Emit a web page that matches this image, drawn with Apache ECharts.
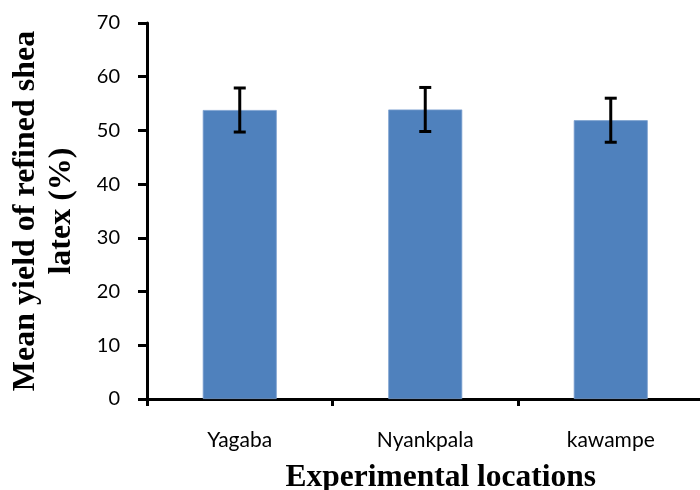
<!DOCTYPE html>
<html>
<head>
<meta charset="utf-8">
<script src="https://cdn.jsdelivr.net/npm/echarts@6/dist/echarts.min.js"></script>
<style>
html,body{margin:0;padding:0;background:#fff;}
#chart{width:700px;height:490px;}
</style>
</head>
<body>
<div id="chart"></div>
<script>
const categories = ["Yagaba", "Nyankpala", "kawampe"];
const meanYield = [53.8, 53.9, 51.9];
const errorSize = [4.1, 4.1, 4.1];
const yTicks = [0, 10, 20, 30, 40, 50, 60, 70];

const errData = categories.map((c, i) => [i, meanYield[i] - errorSize[i], meanYield[i] + errorSize[i]]);

const chart = echarts.init(document.getElementById('chart'), null, {renderer: 'canvas'});
chart.setOption({
  animation: false,
  backgroundColor: '#ffffff',
  grid: {left: 147, right: -3.5, top: 23, bottom: 91, containLabel: false, outerBoundsMode: 'none'},
  xAxis: {
    type: 'category',
    data: categories,
    boundaryGap: true,
    axisLine: {show: true, lineStyle: {color: '#000', width: 3}},
    axisTick: {show: true, alignWithLabel: false, interval: 0, length: 7, lineStyle: {color: '#000', width: 3}},
    axisLabel: {color: '#000', fontFamily: 'Lato', fontSize: 21, margin: 31, interval: 0},
    splitLine: {show: false},
    name: 'Experimental locations',
    nameLocation: 'middle',
    nameGap: 63,
    nameTextStyle: {fontFamily: 'Liberation Serif', fontWeight: 'bold', fontSize: 31.5, color: '#000', padding: [0, 0, 0, 31]}
  },
  yAxis: {
    type: 'value',
    min: yTicks[0],
    max: yTicks[yTicks.length - 1],
    interval: 10,
    axisLine: {show: true, lineStyle: {color: '#000', width: 3}},
    axisTick: {show: true, length: 9, lineStyle: {color: '#000', width: 3}},
    axisLabel: {color: '#000', fontFamily: 'Lato', fontSize: 20, margin: 27},
    splitLine: {show: false},
    name: 'Mean yield of refined shea\nlatex (%)',
    nameLocation: 'middle',
    nameRotate: 90,
    nameGap: 67,
    nameTextStyle: {fontFamily: 'Liberation Serif', fontWeight: 'bold', fontSize: 32, lineHeight: 36, color: '#000', align: 'center'}
  },
  series: [
    {
      type: 'bar',
      data: meanYield,
      barWidth: 74,
      itemStyle: {color: '#4F81BD', borderColor: '#7BA0CF', borderWidth: 0.8},
      z: 2
    },
    {
      type: 'custom',
      data: errData,
      z: 5,
      renderItem: function (params, api) {
        const x = api.value(0);
        const top = api.coord([x, api.value(2)]);
        const bot = api.coord([x, api.value(1)]);
        const hw = 6;
        const style = {stroke: '#000', lineWidth: 3};
        return {
          type: 'group',
          children: [
            {type: 'line', shape: {x1: top[0], y1: top[1], x2: bot[0], y2: bot[1]}, style: style},
            {type: 'line', shape: {x1: top[0] - hw, y1: top[1], x2: top[0] + hw, y2: top[1]}, style: style},
            {type: 'line', shape: {x1: bot[0] - hw, y1: bot[1], x2: bot[0] + hw, y2: bot[1]}, style: style}
          ]
        };
      }
    }
  ]
});
</script>
</body>
</html>
